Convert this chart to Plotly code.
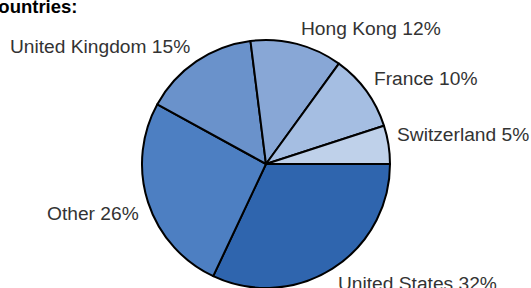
import math
import plotly.graph_objects as go

countries = ["United States", "Other", "United Kingdom", "Hong Kong", "France", "Switzerland"]
shares = [32, 26, 15, 12, 10, 5]
colors = ["#2F65AE", "#4D7FC2", "#6A92CB", "#88A7D6", "#A5BEE2", "#BFD1EA"]
title_text = "Countries:"

W, H = 531, 288
cx, cy, r = 266, 164, 124
label_r = 131
label_dy = 9
FONT = "Liberation Sans, Arial, sans-serif"

fig = go.Figure(go.Pie(
    labels=countries,
    values=shares,
    textinfo="none",
    sort=False,
    direction="clockwise",
    rotation=90,
    marker=dict(colors=colors, line=dict(color="#000000", width=2)),
    domain=dict(x=[(cx - r) / W, (cx + r) / W], y=[(H - cy - r) / H, (H - cy + r) / H]),
    showlegend=False,
    hoverinfo="label+percent",
))

# outside labels, placed at each slice's mid-angle (clockwise from 3 o'clock)
total = sum(shares)
cum = 0.0
for c, s in zip(countries, shares):
    mid = (cum + s / 2) / total * 2 * math.pi
    cum += s
    dx, dy = math.cos(mid), math.sin(mid)  # dy positive = downward on screen
    px = cx + dx * label_r
    py = cy + dy * label_r + math.copysign(label_dy, dy)
    fig.add_annotation(
        text=f"{c} {s}%", xref="paper", yref="paper",
        x=px / W, y=1 - py / H,
        xanchor="left" if dx >= 0 else "right",
        yanchor="middle",
        showarrow=False,
        font=dict(family=FONT, size=19.2, color="#333333"),
    )

fig.add_annotation(
    text=f"<b>{title_text}</b>", xref="paper", yref="paper",
    x=0, y=1, xanchor="left", yanchor="top", xshift=-17, yshift=6,
    showarrow=False,
    font=dict(family=FONT, size=18.5, color="#000000"),
)

fig.update_layout(
    width=W, height=H,
    margin=dict(l=0, r=0, t=0, b=0),
    paper_bgcolor="white", plot_bgcolor="white",
)

fig.write_html("out.html", config={"displayModeBar": False},
               post_script="document.body.style.margin='0';")
